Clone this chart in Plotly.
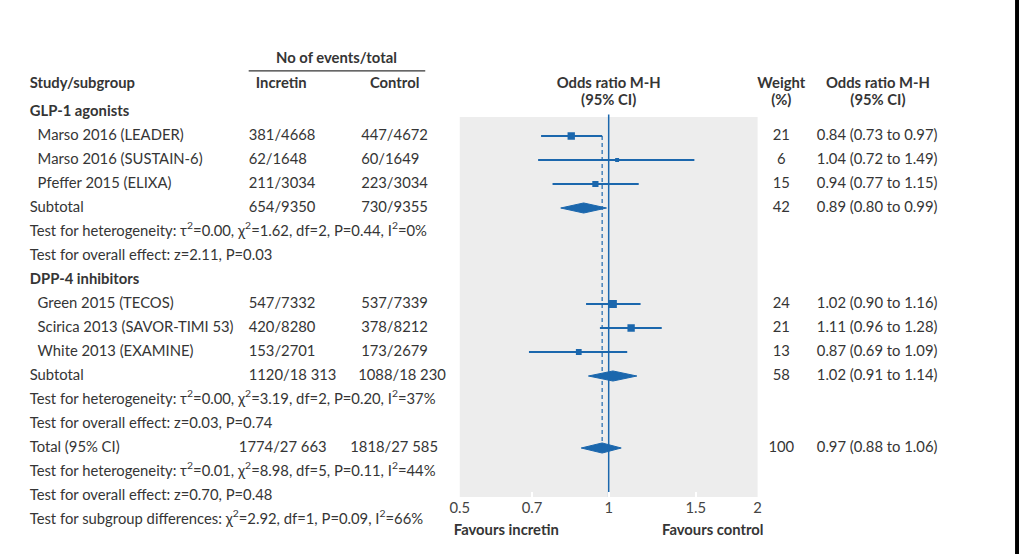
import plotly.graph_objects as go
import math

# ---------------- data ----------------
studies = ["Marso 2016 (LEADER)", "Marso 2016 (SUSTAIN-6)", "Pfeffer 2015 (ELIXA)",
           "Green 2015 (TECOS)", "Scirica 2013 (SAVOR-TIMI 53)", "White 2013 (EXAMINE)"]
study_rows = [2, 3, 4, 9, 10, 11]
incretin_events = ["381/4668", "62/1648", "211/3034", "547/7332", "420/8280", "153/2701"]
control_events = ["447/4672", "60/1649", "223/3034", "537/7339", "378/8212", "173/2679"]
or_est = [0.84, 1.04, 0.94, 1.02, 1.11, 0.87]
or_lo = [0.73, 0.72, 0.77, 0.90, 0.96, 0.69]
or_hi = [0.97, 1.49, 1.15, 1.16, 1.28, 1.09]
weights = [21, 6, 15, 24, 21, 13]

pooled_labels = ["Subtotal", "Subtotal", "Total (95% CI)"]
pooled_rows = [5, 12, 15]
pooled_incretin = ["654/9350", "1120/18 313", "1774/27 663"]
pooled_control = ["730/9355", "1088/18 230", "1818/27 585"]
pooled_est = [0.89, 1.02, 0.97]
pooled_lo = [0.80, 0.91, 0.88]
pooled_hi = [0.99, 1.14, 1.06]
pooled_weights = [42, 58, 100]

group_labels = ["GLP-1 agonists", "DPP-4 inhibitors"]
group_rows = [1, 8]

test_rows = [6, 7, 13, 14, 16, 17, 18]
test_texts = [
    "Test for heterogeneity: τ<sup>2</sup>=0.00, χ<sup>2</sup>=1.62, df=2, P=0.44, I<sup>2</sup>=0%",
    "Test for overall effect: z=2.11, P=0.03",
    "Test for heterogeneity: τ<sup>2</sup>=0.00, χ<sup>2</sup>=3.19, df=2, P=0.20, I<sup>2</sup>=37%",
    "Test for overall effect: z=0.03, P=0.74",
    "Test for heterogeneity: τ<sup>2</sup>=0.01, χ<sup>2</sup>=8.98, df=5, P=0.11, I<sup>2</sup>=44%",
    "Test for overall effect: z=0.70, P=0.48",
    "Test for subgroup differences: χ<sup>2</sup>=2.92, df=1, P=0.09, I<sup>2</sup>=66%",
]

tick_vals = [0.5, 0.7, 1, 1.5, 2]
tick_text = ["0.5", "0.7", "1", "1.5", "2"]

# ---------------- style / layout ----------------
W, H = 1023, 554
BLUE = "#1b67ad"
TXT = "#353535"
FONT = "Lato"
FS = 14.8
ROW0, ROWH = 88, 24          # pixel y of row 0 and row height

y_top = -ROW0 / ROWH
y_bot = (H - ROW0) / ROWH

panel_left, panel_right = 456, 758
panel_top_row = (117 - ROW0) / ROWH
panel_bot_row = (497 - ROW0) / ROWH

# text column positions (pixels on the full-width helper axis)
pooled_inc_x = [242, 242, 232]
pooled_ctl_x = [356, 353, 345]

fig = go.Figure()

def fmt_or(e, l, h):
    return f"{e:.2f} ({l:.2f} to {h:.2f})"

# ---------- forest plot marks (log axis x2) ----------
for r, e, l, h, w in zip(study_rows, or_est, or_lo, or_hi, weights):
    fig.add_trace(go.Scatter(x=[l, h], y=[r, r], mode="lines", xaxis="x2", yaxis="y",
                             line=dict(color=BLUE, width=2), hoverinfo="skip"))
    fig.add_trace(go.Scatter(x=[e], y=[r], mode="markers", xaxis="x2", yaxis="y",
                             marker=dict(symbol="square", color=BLUE, size=1.6 * math.sqrt(w),
                                         line=dict(width=0)), hoverinfo="skip"))

dh = 0.21
for r, e, l, h in zip(pooled_rows, pooled_est, pooled_lo, pooled_hi):
    fig.add_trace(go.Scatter(x=[l, e, h, e, l], y=[r, r - dh, r, r + dh, r], mode="lines",
                             xaxis="x2", yaxis="y",
                             fill="toself", fillcolor=BLUE, line=dict(color=BLUE, width=1),
                             hoverinfo="skip"))

fig.add_trace(go.Scatter(x=[1, 1], y=[panel_top_row - 0.1, panel_bot_row], mode="lines",
                         xaxis="x2", yaxis="y",
                         line=dict(color=BLUE, width=1.5), hoverinfo="skip"))
total_est = pooled_est[-1]
fig.add_trace(go.Scatter(x=[total_est, total_est], y=[study_rows[0], pooled_rows[-1]], mode="lines",
                         xaxis="x2", yaxis="y",
                         line=dict(color=BLUE, width=1.2, dash="4px,3px"), hoverinfo="skip"))

# ---------- text (pixel helper axis x) ----------
def add_text(xs, ys, texts, pos="middle right", bold=False):
    if bold:
        texts = [f"<b>{t}</b>" for t in texts]
    fig.add_trace(go.Scatter(x=xs, y=ys, text=texts, mode="text", textposition=pos,
                             xaxis="x", yaxis="y", cliponaxis=False, hoverinfo="skip",
                             textfont=dict(family=FONT, size=FS, color=TXT)))

R, C, L = "middle right", "middle center", "middle left"

# headers
add_text([20], [-0.17], ["Study/subgroup"], R, True)
add_text([331, 275, 390, 607, 607, 782, 782, 880, 880],
         [-1.21, -0.17, -0.17, -0.17, 0.54, -0.17, 0.54, -0.17, 0.54],
         ["No of events/total", "Incretin", "Control", "Odds ratio M-H", "(95% CI)",
          "Weight", "(%)", "Odds ratio M-H", "(95% CI)"], C, True)

add_text([20] * len(group_rows), group_rows, group_labels, R, True)

# studies
add_text([28] * len(studies), study_rows, studies, R)
add_text([242] * len(studies), study_rows, incretin_events, R)
add_text([356] * len(studies), study_rows, control_events, R)
add_text([782] * len(studies), study_rows, [str(w) for w in weights], C)
add_text([818] * len(studies), study_rows,
         [fmt_or(e, l, h) for e, l, h in zip(or_est, or_lo, or_hi)], R)

# pooled rows
add_text([20] * len(pooled_rows), pooled_rows, pooled_labels, R)
add_text(pooled_inc_x, pooled_rows, pooled_incretin, R)
add_text(pooled_ctl_x, pooled_rows, pooled_control, R)
add_text([782] * len(pooled_rows), pooled_rows, [str(w) for w in pooled_weights], C)
add_text([818] * len(pooled_rows), pooled_rows,
         [fmt_or(e, l, h) for e, l, h in zip(pooled_est, pooled_lo, pooled_hi)], R)

# tests
add_text([20] * len(test_rows), test_rows, test_texts, R)

# favours labels
add_text([450], [18.46], ["Favours incretin"], R, True)
add_text([764], [18.46], ["Favours control"], L, True)

shapes = [
    dict(type="rect", xref="x2 domain", yref="y", x0=0, x1=1, y0=panel_top_row, y1=panel_bot_row,
         fillcolor="#ededed", line=dict(width=0), layer="below"),
    dict(type="line", xref="x", yref="y", x0=242, x1=421, y0=-0.71, y1=-0.71,
         line=dict(color=TXT, width=1.2)),
    dict(type="rect", xref="x", yref="paper", x0=1019, x1=W, y0=0, y1=1,
         fillcolor="black", line=dict(width=0)),
]

fig.update_layout(
    width=W, height=H,
    margin=dict(l=0, r=0, t=0, b=0),
    paper_bgcolor="white", plot_bgcolor="rgba(0,0,0,0)",
    showlegend=False,
    shapes=shapes,
    xaxis=dict(domain=[0, 1], range=[0, W], visible=False, fixedrange=True),
    xaxis2=dict(type="log", domain=[panel_left / W, panel_right / W],
                range=[math.log10(0.5), math.log10(2)],
                anchor="free", position=(H - 497) / H,
                tickvals=tick_vals, ticktext=tick_text,
                ticks="inside", ticklen=5, tickwidth=2, tickcolor="white",
                showgrid=False, zeroline=False, showline=False,
                tickfont=dict(family=FONT, size=FS, color="#444")),
    yaxis=dict(domain=[0, 1], range=[y_bot, y_top], visible=False),
)

fig.write_html("out.html")
